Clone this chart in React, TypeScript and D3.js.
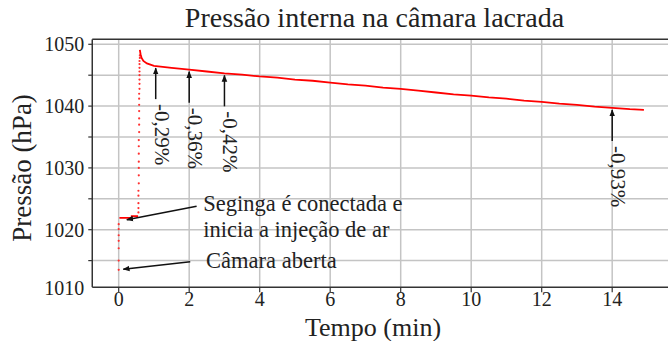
import React from 'react';
import * as d3 from 'd3';

// Chamber opened: readings at t = 0
const openTimes = [0, 0, 0, 0, 0, 0, 0];
const openPressures = [1013.5, 1015.0, 1017.0, 1018.2, 1019.1, 1020.1, 1020.9];

// Syringe connected, before injection
const connTimes = [0.02, 0.37, 0.55];
const connPressures = [1021.9, 1022.2, 1022.2];

// Air injection (sparse readings)
const injTimes = [0.56, 0.56, 0.56, 0.56, 0.56, 0.57, 0.57, 0.57, 0.57, 0.57, 0.57, 0.57, 0.58, 0.58, 0.58, 0.58, 0.58, 0.58, 0.58, 0.59, 0.59, 0.59, 0.59, 0.59, 0.59, 0.59, 0.59, 0.6, 0.6];
const injPressures = [1022.8, 1023.5, 1024.3, 1025.5, 1026.3, 1027.5, 1028.8, 1030.0, 1031.0, 1032.3, 1033.5, 1034.5, 1035.8, 1037.0, 1038.0, 1039.2, 1040.2, 1041.2, 1042.0, 1042.8, 1043.6, 1044.3, 1045.0, 1045.6, 1046.2, 1046.8, 1047.3, 1047.8, 1048.2];

// Sealed chamber
const sealTimes = [0.6, 0.62, 0.65, 0.7, 0.8, 1.0, 1.5, 2, 2.5, 3, 3.5, 4, 4.5, 5, 5.5, 6, 6.5, 7, 7.5, 8, 8.5, 9, 9.5, 10, 10.5, 11, 11.5, 12, 12.5, 13, 13.5, 14, 14.5, 14.9];
const sealPressures = [1049.1, 1048.4, 1047.8, 1047.3, 1046.9, 1046.5, 1046.2, 1045.9, 1045.6, 1045.3, 1045.1, 1044.8, 1044.6, 1044.3, 1044.1, 1043.8, 1043.5, 1043.3, 1043.0, 1042.8, 1042.5, 1042.2, 1041.9, 1041.7, 1041.4, 1041.2, 1040.9, 1040.7, 1040.4, 1040.2, 1039.9, 1039.7, 1039.5, 1039.4];

const dropTimes = [1.05, 2, 3, 14];
const dropLabels = ['-0,29%', '-0,36%', '-0,42%', '-0,93%'];

const xTicks = [0, 2, 4, 6, 8, 10, 12, 14];
const yTicks = [1010, 1020, 1030, 1040, 1050];
const yGrid = [1015, 1020, 1025, 1030, 1035, 1040, 1045, 1050];

const W = 668;
const H = 341;
const FONT = "'Liberation Serif'";

export default function App() {
  const x = d3.scaleLinear().domain([0, 14]).range([118.7, 612.2]);
  const y = d3.scaleLinear().domain([1010, 1050]).range([291.5, 44.3]);

  const left = x(-0.75);
  const top = y(1050.8);
  const bottom = y(1010.7);

  const zip = (ts: number[], ps: number[]) => ts.map((t, i) => [t, ps[i]] as [number, number]);
  const conn = zip(connTimes, connPressures);
  const seal = zip(sealTimes, sealPressures);
  const dots = [...zip(openTimes, openPressures), ...zip(injTimes, injPressures)];

  const stepLine = d3.line<[number, number]>().x(d => x(d[0])).y(d => y(d[1])).curve(d3.curveStepAfter);
  const line = d3.line<[number, number]>().x(d => x(d[0])).y(d => y(d[1]));
  const interp = (t: number) => {
    const i = d3.bisectLeft(sealTimes, t);
    const t0 = sealTimes[i - 1], t1 = sealTimes[i];
    return d3.interpolateNumber(sealPressures[i - 1], sealPressures[i])((t - t0) / (t1 - t0));
  };

  const txt = { fontFamily: FONT, fill: '#222' } as React.CSSProperties;

  return (
    <div style={{ position: 'fixed', left: 0, top: 0 }}>
      <svg width={W} height={H} style={{ display: 'block', background: '#fff' }}>
        <defs>
          <marker id="ah" viewBox="0 0 10 10" refX="9" refY="5" markerWidth="7" markerHeight="7" orient="auto-start-reverse" markerUnits="userSpaceOnUse">
            <path d="M0,1 L10,5 L0,9 z" fill="#111" />
          </marker>
        </defs>

        {/* grid */}
        {yGrid.map(v => (
          <line key={'gy' + v} x1={left} x2={W} y1={y(v)} y2={y(v)} stroke="#c4c4c4" strokeWidth={1.5} />
        ))}
        {xTicks.map(v => (
          <line key={'gx' + v} x1={x(v)} x2={x(v)} y1={top} y2={bottom} stroke="#c4c4c4" strokeWidth={1.5} />
        ))}

        {/* frame */}
        <line x1={left} x2={W} y1={top} y2={top} stroke="#333" strokeWidth={1.5} />
        <line x1={left} x2={W} y1={bottom} y2={bottom} stroke="#333" strokeWidth={1.5} />
        <line x1={left} x2={left} y1={top} y2={bottom} stroke="#333" strokeWidth={1.5} />

        {/* y ticks */}
        {yGrid.map(v => (
          <line key={'ty' + v} x1={left - 4} x2={left} y1={y(v)} y2={y(v)} stroke="#333" strokeWidth={1.2} />
        ))}
        {yTicks.map(v => (
          <text key={'ly' + v} x={left - 8} y={Math.min(y(v), bottom + 1)} dy="0.35em" textAnchor="end" fontSize={20} style={txt}>{v}</text>
        ))}
        {xTicks.map(v => (
          <g key={'tx' + v}>
            <line x1={x(v)} x2={x(v)} y1={bottom} y2={bottom + 5} stroke="#333" strokeWidth={1.2} />
            <text x={x(v)} y={bottom + 5} dy="0.71em" textAnchor="middle" fontSize={20} style={txt}>{v}</text>
          </g>
        ))}

        {/* data */}
        {dots.map((d, i) => (
          <circle key={'d' + i} cx={x(d[0])} cy={y(d[1])} r={1.1} fill="#ff3030" />
        ))}
        <path d={stepLine(conn) || ''} fill="none" stroke="#ff0000" strokeWidth={1.8} />
        <path d={line(seal) || ''} fill="none" stroke="#ff0000" strokeWidth={1.8} />

        {/* percent drop annotations */}
        {dropTimes.map((t, i) => {
          const tip = y(interp(t)) + 2;
          const tail = tip + 31;
          return (
            <g key={'a' + i}>
              <line x1={x(t)} x2={x(t)} y1={tail} y2={tip} stroke="#111" strokeWidth={1.5} markerEnd="url(#ah)" />
              <text transform={`translate(${x(t)},${tail + 5}) rotate(90)`} dy="0.05em" fontSize={21} style={txt}>{dropLabels[i]}</text>
            </g>
          );
        })}

        {/* event annotations */}
        <line x1={x(2.21)} y1={y(1023.8)} x2={x(0.23)} y2={y(1021.6)} stroke="#111" strokeWidth={1.5} markerEnd="url(#ah)" />
        <text x={x(2.4)} y={y(1024.3)} dy="0.35em" fontSize={22.5} style={txt}>Seginga é conectada e</text>
        <text x={x(2.4)} y={y(1020.1)} dy="0.35em" fontSize={22.5} style={txt}>inicia a injeção de ar</text>
        <line x1={x(2.03)} y1={y(1014.8)} x2={x(0.13)} y2={y(1013.6)} stroke="#111" strokeWidth={1.5} markerEnd="url(#ah)" />
        <text x={x(2.48)} y={y(1015.1)} dy="0.35em" fontSize={22.5} style={txt}>Câmara aberta</text>

        {/* titles */}
        <text x={374.5} y={27} textAnchor="middle" fontSize={28} style={txt}>Pressão interna na câmara lacrada</text>
        <text x={373} y={336} textAnchor="middle" fontSize={26} style={txt}>Tempo (min)</text>
        <text transform={`translate(31,168) rotate(-90)`} textAnchor="middle" fontSize={27} style={txt}>Pressão (hPa)</text>
      </svg>
    </div>
  );
}
